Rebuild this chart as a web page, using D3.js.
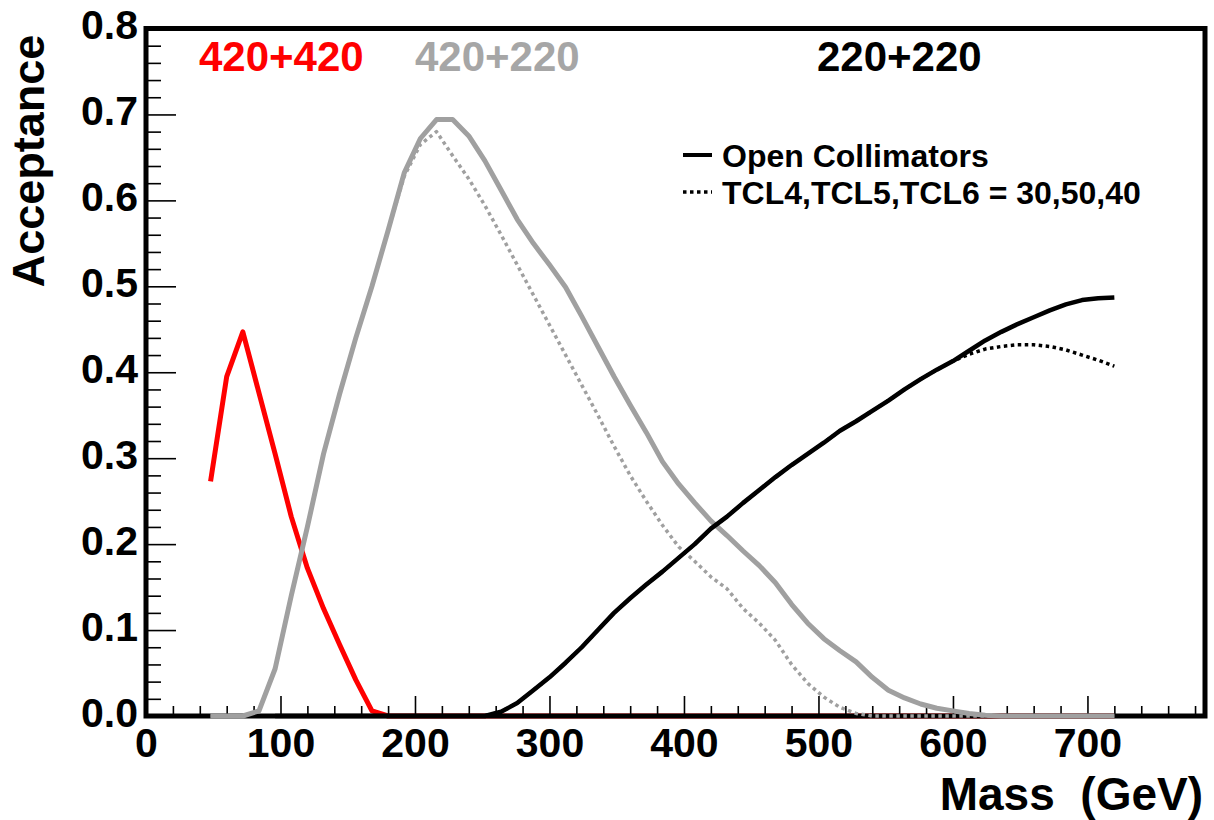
<!DOCTYPE html>
<html lang="en">
<head>
    <meta charset="UTF-8">
    <title>Acceptance vs Mass</title>
    <script src="https://d3js.org/d3.v7.min.js"></script>
    <style>
        body { margin: 0; background: white; }
        svg { display: block; font-family: "Liberation Sans", Arial, sans-serif; font-weight: bold; }
        .tick text { font-size: 41px; font-weight: bold; fill: #000; }
        .tick line { stroke: #000; stroke-width: 1.6; }
    </style>
</head>
<body>
    <svg width="1214" height="820"></svg>

    <script>
        // 420+420 (red)
        const redMass = [48, 60, 72, 84, 96, 108, 120, 132, 144, 156, 168, 180, 720];
        const redAcc  = [0.273, 0.395, 0.447, 0.376, 0.305, 0.232, 0.172, 0.125, 0.083, 0.042, 0.006, 0, 0];

        // 420+220 (grey), open collimators
        const greyMass = [48, 60, 72, 84, 96, 108, 120, 132, 144, 156, 168, 180, 192, 204, 216, 228, 240, 252,
            264, 276, 288, 300, 312, 324, 336, 348, 360, 372, 384, 396, 408, 420, 432, 444, 456, 468, 480, 492,
            504, 516, 528, 540, 552, 564, 576, 588, 600, 612, 624, 636, 720];
        const greyOpen = [0, 0, 0, 0.006, 0.055, 0.14, 0.22, 0.305, 0.375, 0.44, 0.5, 0.565, 0.632, 0.672, 0.694, 0.694,
            0.675, 0.646, 0.612, 0.578, 0.55, 0.525, 0.499, 0.465, 0.43, 0.395, 0.362, 0.33, 0.296, 0.27, 0.248, 0.227,
            0.21, 0.192, 0.175, 0.155, 0.13, 0.108, 0.09, 0.076, 0.063, 0.045, 0.03, 0.021, 0.014, 0.009, 0.006, 0.003,
            0.001, 0, 0];

        // 420+220 (grey), TCL4,TCL5,TCL6 = 30,50,40
        const greyTclMass = [48, 60, 72, 84, 96, 108, 120, 132, 144, 156, 168, 180, 192, 204, 216, 228, 240, 252,
            264, 276, 288, 300, 312, 324, 336, 348, 360, 372, 384, 396, 408, 420, 432, 444, 456, 468, 480, 492,
            504, 516, 528, 540, 720];
        const greyTcl = [0, 0, 0, 0.006, 0.055, 0.14, 0.22, 0.305, 0.375, 0.44, 0.5, 0.565, 0.628, 0.665, 0.68, 0.652,
            0.625, 0.594, 0.56, 0.525, 0.49, 0.455, 0.42, 0.385, 0.35, 0.314, 0.28, 0.25, 0.222, 0.197, 0.18, 0.162,
            0.148, 0.125, 0.108, 0.088, 0.06, 0.038, 0.022, 0.01, 0.003, 0, 0];

        // 220+220 (black)
        const blackMass = [96, 252, 264, 276, 288, 300, 312, 324, 336, 348, 360, 372, 384, 396, 408, 420, 432, 444,
            456, 468, 480, 492, 504, 516, 528, 540, 552, 564, 576, 588, 600, 612, 624, 636, 648, 660, 672, 684,
            696, 708, 720];
        const blackOpen = [0, 0, 0.005, 0.015, 0.03, 0.045, 0.062, 0.08, 0.1, 0.12, 0.137, 0.153, 0.168, 0.184, 0.2,
            0.218, 0.232, 0.248, 0.263, 0.278, 0.292, 0.305, 0.318, 0.332, 0.343, 0.355, 0.367, 0.38, 0.392, 0.403,
            0.413, 0.425, 0.437, 0.447, 0.456, 0.464, 0.472, 0.479, 0.484, 0.486, 0.487];
        const blackTcl = [0, 0, 0.005, 0.015, 0.03, 0.045, 0.062, 0.08, 0.1, 0.12, 0.137, 0.153, 0.168, 0.184, 0.2,
            0.218, 0.232, 0.248, 0.263, 0.278, 0.292, 0.305, 0.318, 0.332, 0.343, 0.355, 0.367, 0.38, 0.392, 0.403,
            0.413, 0.421, 0.427, 0.43, 0.432, 0.432, 0.43, 0.426, 0.42, 0.414, 0.407];

        const xMajor = [0, 100, 200, 300, 400, 500, 600, 700];
        const xMinor = [20, 40, 60, 80, 120, 140, 160, 180, 220, 240, 260, 280, 320, 340, 360, 380, 420, 440, 460,
            480, 520, 540, 560, 580, 620, 640, 660, 680, 720, 740, 760, 780];
        const yMajor = [0, 0.1, 0.2, 0.3, 0.4, 0.5, 0.6, 0.7, 0.8];
        const yMinor = [0.02, 0.04, 0.06, 0.08, 0.12, 0.14, 0.16, 0.18, 0.22, 0.24, 0.26, 0.28, 0.32, 0.34, 0.36,
            0.38, 0.42, 0.44, 0.46, 0.48, 0.52, 0.54, 0.56, 0.58, 0.62, 0.64, 0.66, 0.68, 0.72, 0.74, 0.76, 0.78];

        const svg = d3.select("svg");
        const plot = {left: 146, right: 1205, top: 28.5, bottom: 716};

        const x = d3.scaleLinear().domain([0, 787.4]).range([plot.left, plot.right]);
        const y = d3.scaleLinear().domain([0, 0.8]).range([plot.bottom, plot.top]);

        const line = d3.line().x(d => x(d[0])).y(d => y(d[1]));
        const drawCurve = c => svg.append("path")
            .attr("d", line(c.mass.map((m, i) => [m, c.acc[i]])))
            .attr("fill", "none")
            .attr("stroke", c.color)
            .attr("stroke-width", c.width)
            .attr("stroke-dasharray", c.dash)
            .attr("stroke-linejoin", "round");

        // red goes under the frame, so its zero tail hides behind the axis
        drawCurve({mass: redMass, acc: redAcc, color: "#ff0000", width: 5, dash: null});

        // axes, ticks pointing inside the frame
        svg.append("g")
            .attr("transform", `translate(0,${plot.bottom})`)
            .call(d3.axisBottom(x).tickValues(xMinor).tickSize(-10).tickFormat(""))
            .call(g => g.select(".domain").remove());
        svg.append("g")
            .attr("transform", `translate(0,${plot.bottom})`)
            .call(d3.axisBottom(x).tickValues(xMajor).tickSize(-20).tickPadding(12).tickFormat(d3.format("d")))
            .call(g => g.select(".domain").remove());

        svg.append("g")
            .attr("transform", `translate(${plot.left},0)`)
            .call(d3.axisLeft(y).tickValues(yMinor).tickSize(-15).tickFormat(""))
            .call(g => g.select(".domain").remove());
        svg.append("g")
            .attr("transform", `translate(${plot.left},0)`)
            .call(d3.axisLeft(y).tickValues(yMajor).tickSize(-30).tickPadding(8).tickFormat(d3.format(".1f")))
            .call(g => g.select(".domain").remove())
            .selectAll("text").attr("dy", "0.25em");

        svg.selectAll(".tick text").attr("font-family", null).attr("font-size", null);

        // frame
        svg.append("rect")
            .attr("x", plot.left).attr("y", plot.top)
            .attr("width", plot.right - plot.left).attr("height", plot.bottom - plot.top)
            .attr("fill", "none").attr("stroke", "#000").attr("stroke-width", 5);

        [
            {mass: greyTclMass, acc: greyTcl, color: "#a0a0a0", width: 3.5, dash: "3.5,3.5"},
            {mass: greyMass, acc: greyOpen, color: "#a0a0a0", width: 5, dash: null},
            {mass: blackMass, acc: blackTcl, color: "#000", width: 3.5, dash: "3.5,3.5"},
            {mass: blackMass, acc: blackOpen, color: "#000", width: 4.5, dash: null}
        ].forEach(drawCurve);

        // configuration labels
        const configs = [
            {text: "420+420", color: "#ff0000", x: 199},
            {text: "420+220", color: "#a6a6a6", x: 415},
            {text: "220+220", color: "#000", x: 817}
        ];
        svg.selectAll(".cfg")
            .data(configs)
            .enter().append("text")
            .attr("class", "cfg")
            .attr("x", d => d.x).attr("y", 71)
            .attr("font-size", 42)
            .attr("fill", d => d.color)
            .text(d => d.text);

        // legend
        const legend = [
            {label: "Open Collimators", dash: null, width: 4, y: 167},
            {label: "TCL4,TCL5,TCL6 = 30,50,40", dash: "3.5,3.5", width: 3.5, y: 204}
        ];
        legend.forEach(l => {
            svg.append("line")
                .attr("x1", 683).attr("x2", 712)
                .attr("y1", l.y - 12).attr("y2", l.y - 12)
                .attr("stroke", "#000").attr("stroke-width", l.width)
                .attr("stroke-dasharray", l.dash);
            svg.append("text")
                .attr("x", 722).attr("y", l.y)
                .attr("font-size", 32)
                .text(l.label);
        });

        // axis titles
        svg.append("text")
            .attr("text-anchor", "end")
            .attr("x", 1203).attr("y", 810)
            .attr("font-size", 46)
            .style("white-space", "pre")
            .text("Mass  (GeV)");

        svg.append("text")
            .attr("transform", "translate(44,161) rotate(-90)")
            .attr("text-anchor", "middle")
            .attr("font-size", 45)
            .text("Acceptance");
    </script>
</body>
</html>
